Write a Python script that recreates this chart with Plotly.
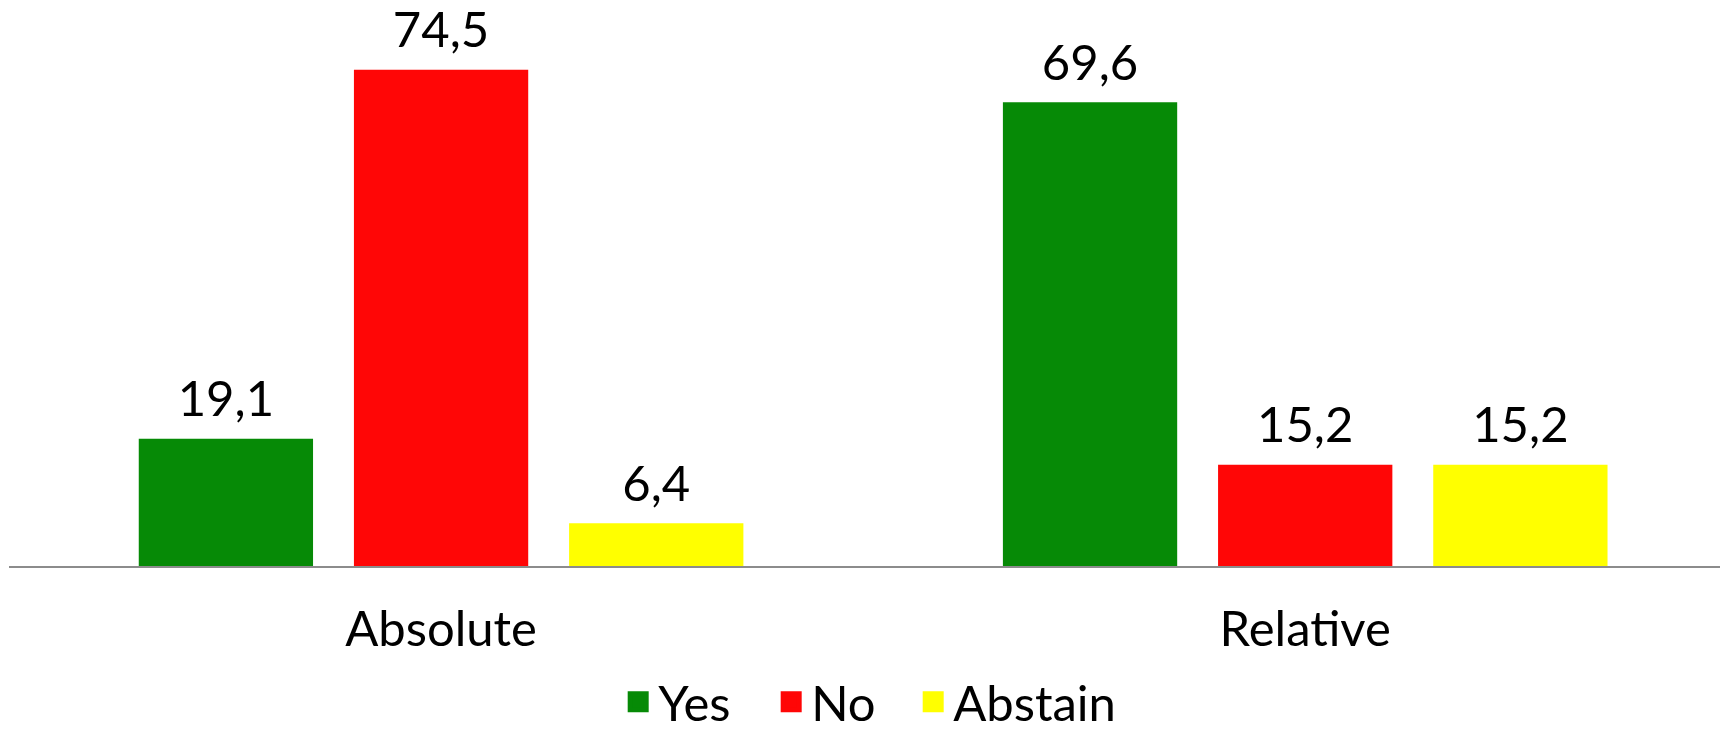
import plotly.graph_objects as go

# Vote shares (%) for each majority type
categories = ["Absolute", "Relative"]
series_names = ["Yes", "No", "Abstain"]
yes_values = [19.1, 69.6]
no_values = [74.5, 15.2]
abstain_values = [6.4, 15.2]

colors = {"Yes": "#068A06", "No": "#FF0606", "Abstain": "#FFFF00"}
values = {"Yes": yes_values, "No": no_values, "Abstain": abstain_values}
legend_widths = {"Yes": 108, "No": 97, "Abstain": 180}

FONT = "Lato"
FS = 49
GAP = 0.253

fig = go.Figure()
for name in series_names:
    fig.add_trace(go.Bar(
        x=categories,
        y=values[name],
        name=name,
        offsetgroup=name,
        alignmentgroup="votes",
        marker=dict(color=colors[name], line=dict(width=0)),
        showlegend=False,
        hoverinfo="skip",
    ))

# value labels, grouped so they sit over their bars
for name in series_names:
    fig.add_trace(go.Scatter(
        x=categories,
        y=values[name],
        mode="markers+text",
        offsetgroup=name,
        alignmentgroup="votes",
        texttemplate="%{y:.1f}",
        textposition="top center",
        textfont=dict(family=FONT, size=FS, color="black"),
        marker=dict(size=15, color="rgba(0,0,0,0)"),
        cliponaxis=False,
        showlegend=False,
        hovertemplate=name + ": %{y:.1f}<extra></extra>",
    ))

# legend swatches
for name in series_names:
    fig.add_trace(go.Scatter(
        x=[None], y=[None], mode="markers", name=name,
        marker=dict(symbol="square", size=16, color=colors[name],
                    line=dict(color=colors[name], width=5)),
        legendwidth=legend_widths[name],
        showlegend=True,
    ))

fig.update_layout(
    width=1720, height=730,
    margin=dict(l=9, r=0, t=33, b=164, autoexpand=False),
    paper_bgcolor="white", plot_bgcolor="white",
    separators=",.",
    barmode="group",
    bargap=GAP,
    bargroupgap=0.19,
    scattermode="group",
    scattergap=GAP,
    font=dict(family=FONT, size=FS, color="black"),
    showlegend=True,
    legend=dict(
        orientation="h", x=0.508, xanchor="center", y=-0.255, yanchor="middle",
        font=dict(family=FONT, size=FS, color="black"),
        itemsizing="trace",
        bgcolor="rgba(0,0,0,0)",
    ),
    xaxis=dict(
        type="category",
        range=[-0.5, 1.48],
        showline=True, linecolor="#8c8c8c", linewidth=2,
        showgrid=False, zeroline=False, ticks="",
        ticklabelstandoff=19,
        tickfont=dict(family=FONT, size=FS, color="black"),
    ),
    yaxis=dict(
        range=[0, 80],
        visible=False,
        showgrid=False, zeroline=False,
    ),
)

fig.write_html("out.html")
